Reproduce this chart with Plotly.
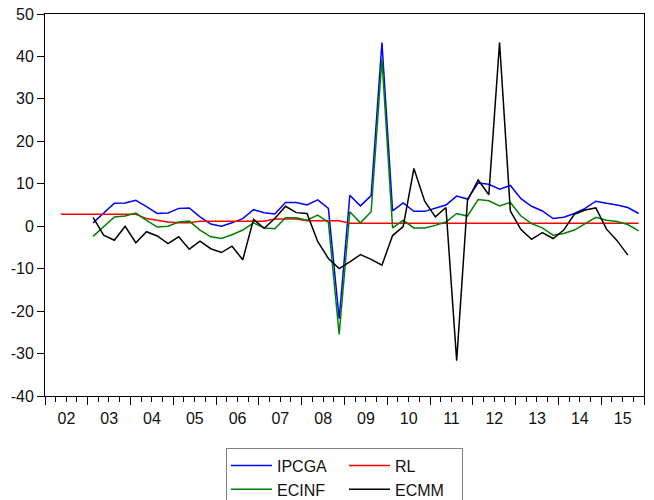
import pandas as pd
import plotly.graph_objects as go

# Quarterly observations, 2002Q1 - 2015Q4
quarters = pd.period_range("2002Q1", "2015Q4", freq="Q")
x_dates = [p.start_time + (p.end_time - p.start_time) / 2 for p in quarters]

N = None

ipcga = [N, N, N, N,
         0.8, 3.0, 5.4, 5.5,
         6.1, 4.6, 3.0, 3.1,
         4.2, 4.3, 2.2, 0.5,
         0.0, 0.8, 1.8, 3.9,
         3.2, 2.9, 5.6, 5.6,
         5.0, 6.2, 4.2, -21.8,
         7.3, 4.8, 7.2, 43.3,
         3.6, 5.5, 3.5, 3.5,
         4.3, 5.0, 7.1, 6.4,
         10.2, 9.9, 8.7, 9.6,
         6.5, 4.7, 3.6, 1.8,
         2.1, 3.0, 4.2, 5.9,
         5.4, 5.0, 4.4, 3.0]

rl = [N, 2.8, 2.8, 2.8,
      2.8, 2.8, 2.8, 2.8,
      2.8, 1.8, 1.4, 1.0,
      0.8, 0.8, 1.2, 1.2,
      1.2, 1.2, 1.2, 1.2,
      1.2, 1.7, 1.7, 1.7,
      1.3, 1.3, 1.3, 1.3,
      0.7, 0.7, 0.7, 0.7,
      0.7, 0.7, 0.7, 0.7,
      0.7, 0.7, 0.7, 0.7,
      0.7, 0.7, 0.7, 0.7,
      0.7, 0.7, 0.7, 0.7,
      0.7, 0.7, 0.7, 0.7,
      0.7, 0.7, 0.7, 0.7]

ecinf = [N, N, N, N,
         -2.4, -0.1, 2.2, 2.4,
         3.1, 1.4, -0.2, 0.0,
         1.0, 1.2, -0.9, -2.5,
         -2.9, -2.0, -0.9, 0.8,
         -0.4, -0.6, 2.0, 2.0,
         1.4, 2.6, 0.9, -25.5,
         3.4, 0.8, 3.4, 39.4,
         -0.4, 1.4, -0.4, -0.4,
         0.2, 1.0, 3.0, 2.4,
         6.3, 6.0, 4.8, 5.6,
         2.4, 0.6, -0.4, -2.1,
         -1.7, -0.9, 0.5, 2.1,
         1.4, 1.1, 0.4, -1.1]

ecmm = [N, N, N, N,
        2.1, -2.1, -3.3, 0.0,
        -3.9, -1.3, -2.3, -4.1,
        -2.5, -5.4, -3.5, -5.3,
        -6.2, -4.7, -7.9, 1.6,
        -0.5, 1.8, 4.7, 3.2,
        3.0, -3.6, -7.6, -10.0,
        -8.4, -6.7, -7.8, -9.2,
        -2.2, -0.1, 13.6, 5.9,
        2.2, 4.4, -31.7, 6.0,
        10.9, 7.4, 43.3, 3.6,
        -0.8, -3.1, -1.5, -2.9,
        -0.9, 2.8, 3.8, 4.3,
        -0.7, -3.4, -6.8, N]

y_ticks = [-40, -30, -20, -10, 0, 10, 20, 30, 40, 50]
y_tick_text = ["-40", "-30", "-20", "-10", "0", "10", "20", "30", "40", "50"]

series = [
    ("IPCGA", ipcga, "#0000FF", "c1"),
    ("RL", rl, "#FF0000", "c2"),
    ("ECINF", ecinf, "#008000", "c1"),
    ("ECMM", ecmm, "#000000", "c2"),
]

FONT = "Liberation Sans, Arial, sans-serif"

fig = go.Figure()
for name, vals, color, grp in series:
    fig.add_trace(go.Scatter(
        x=x_dates, y=vals, name=name, mode="lines",
        line=dict(color=color, width=1.5),
        legendgroup=grp,
    ))

fig.update_layout(
    width=654, height=500,
    margin=dict(l=45, r=10, t=14, b=104, autoexpand=False),
    plot_bgcolor="white", paper_bgcolor="white",
    font=dict(family=FONT, size=16, color="#111111"),
    showlegend=True,
    legend=dict(
        orientation="h", traceorder="grouped",
        x=0.5, xanchor="center", y=-0.135, yanchor="top",
        bordercolor="#808080", borderwidth=1,
        font=dict(family=FONT, size=16, color="#111111"),
        itemwidth=41, tracegroupgap=0, entrywidth=62,
    ),
)

fig.update_xaxes(
    type="date",
    range=["2002-01-01", "2016-01-01"],
    tick0="2002-01-01", dtick="M12", tickformat="%y",
    ticklabelmode="period",
    ticks="outside", ticklen=8, tickcolor="black", tickwidth=1,
    showline=True, linecolor="black", linewidth=1, mirror=True,
    showgrid=False, zeroline=False,
    tickfont=dict(size=16),
    minor=dict(dtick="M3", ticks="outside", ticklen=5, tickcolor="black",
               tickwidth=1, showgrid=False),
)
fig.update_yaxes(
    range=[-40, 50], tickmode="array", tickvals=y_ticks, ticktext=y_tick_text,
    ticks="outside", ticklen=7, tickcolor="black", tickwidth=1,
    showline=True, linecolor="black", linewidth=1, mirror=True,
    showgrid=False, zeroline=False,
    tickfont=dict(size=16),
)

fig.write_html("out.html")
